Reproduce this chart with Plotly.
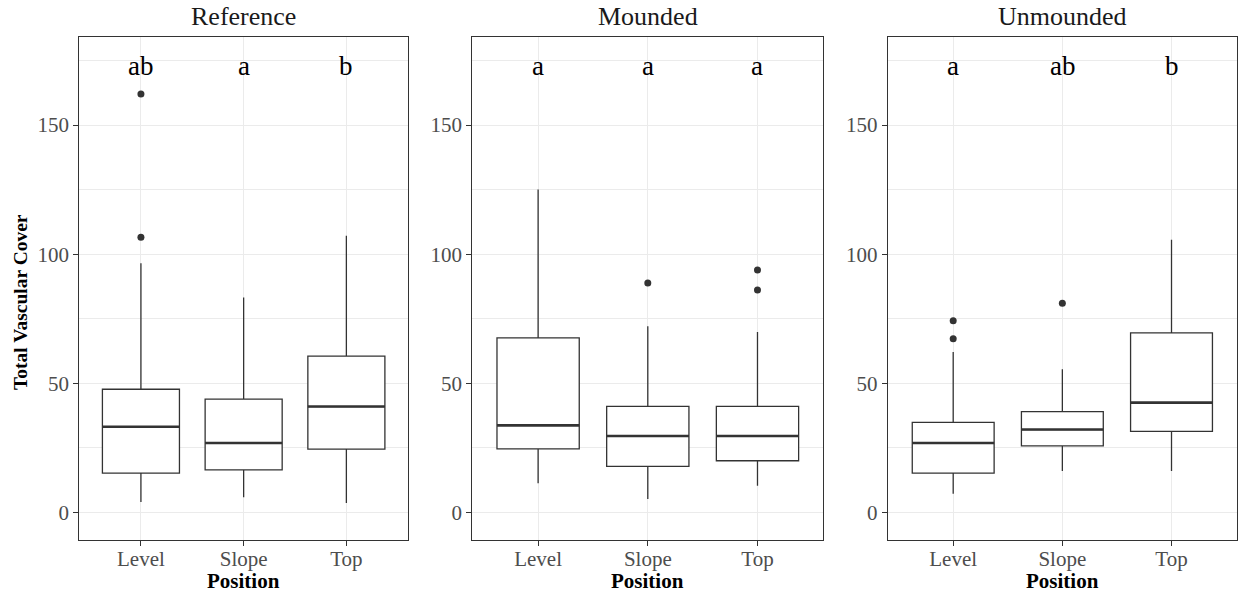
import plotly.graph_objects as go

# ---------------- data ----------------
categories = ["Level", "Slope", "Top"]
panels = ["Reference", "Mounded", "Unmounded"]

ref_q1 = [15.2, 16.5, 24.5]
ref_med = [33.2, 26.9, 41.0]
ref_q3 = [47.7, 43.9, 60.5]
ref_lo = [4.0, 5.9, 3.6]
ref_hi = [96.5, 83.2, 107.1]
ref_out_x = ["Level", "Level"]
ref_out_y = [162.0, 106.6]
ref_letters = ["ab", "a", "b"]

mou_q1 = [24.6, 17.8, 20.0]
mou_med = [33.7, 29.6, 29.6]
mou_q3 = [67.6, 41.1, 41.1]
mou_lo = [11.3, 5.2, 10.3]
mou_hi = [125.1, 72.1, 69.9]
mou_out_x = ["Slope", "Top", "Top"]
mou_out_y = [88.8, 93.9, 86.1]
mou_letters = ["a", "a", "a"]

unm_q1 = [15.2, 25.8, 31.4]
unm_med = [26.9, 32.1, 42.5]
unm_q3 = [34.9, 39.0, 69.5]
unm_lo = [7.2, 16.0, 16.0]
unm_hi = [62.1, 55.4, 105.6]
unm_out_x = ["Level", "Level", "Slope"]
unm_out_y = [74.2, 67.3, 81.0]
unm_letters = ["a", "ab", "b"]

y_ticks = [0, 50, 100, 150]
y_minor = [25, 75, 125, 175]
letter_y = 173

# ---------------- styling ----------------
W, H = 1238, 596
FONT = "Liberation Serif"
DARK = "#333333"
TICKC = "#4D4D4D"
GRID = "#EBEBEB"
BOX_W = 0.75

panel_px = [(79.3, 408.0), (472.3, 823.3), (887.7, 1237.0)]
top_px, bot_px = 37.3, 540.3
ydom = [1 - bot_px / H, 1 - top_px / H]

datasets = [
    (ref_q1, ref_med, ref_q3, ref_lo, ref_hi, ref_out_x, ref_out_y, ref_letters),
    (mou_q1, mou_med, mou_q3, mou_lo, mou_hi, mou_out_x, mou_out_y, mou_letters),
    (unm_q1, unm_med, unm_q3, unm_lo, unm_hi, unm_out_x, unm_out_y, unm_letters),
]

fig = go.Figure()
annotations = []
pos = list(range(len(categories)))
cat_index = {c: i for i, c in enumerate(categories)}

for k, (q1, med, q3, lo, hi, ox, oy, letters) in enumerate(datasets):
    sfx = "" if k == 0 else str(k + 1)
    xa, ya = "x" + sfx, "y" + sfx
    fig.add_trace(go.Box(
        x=pos, q1=q1, median=med, q3=q3, lowerfence=lo, upperfence=hi,
        width=BOX_W, whiskerwidth=0, fillcolor="white",
        line=dict(color=DARK, width=1.3), boxpoints=False,
        xaxis=xa, yaxis=ya, hoverinfo="skip",
    ))
    # thicker median lines (ggplot style)
    mx, my = [], []
    for i, m in zip(pos, med):
        mx += [i - BOX_W / 2, i + BOX_W / 2, None]
        my += [m, m, None]
    fig.add_trace(go.Scatter(x=mx, y=my, mode="lines",
                             line=dict(color=DARK, width=2.6),
                             xaxis=xa, yaxis=ya, hoverinfo="skip"))
    # outliers
    fig.add_trace(go.Scatter(x=[cat_index[c] for c in ox], y=oy, mode="markers",
                             marker=dict(color=DARK, size=7),
                             xaxis=xa, yaxis=ya, hoverinfo="skip"))
    # letters
    for i, t in zip(pos, letters):
        annotations.append(dict(x=i, y=letter_y, xref=xa, yref=ya, text=t,
                                showarrow=False, xanchor="center", yanchor="middle",
                                font=dict(family=FONT, size=27, color="black")))
    x0, x1 = panel_px[k]
    xdom = [x0 / W, x1 / W]
    axis_common = dict(showline=True, mirror=True, linecolor=DARK, linewidth=1.2,
                       ticks="outside", ticklen=5, tickcolor=DARK, tickwidth=1,
                       showgrid=True, gridcolor=GRID, gridwidth=1, zeroline=False,
                       tickfont=dict(family=FONT, size=21, color=TICKC))
    fig.layout["xaxis" + sfx] = dict(domain=xdom, range=[-0.6, 2.6], tickvals=pos,
                                     ticktext=categories, anchor=ya,
                                     ticklabelstandoff=-6, **axis_common)
    fig.layout["yaxis" + sfx] = dict(domain=ydom, range=[-10.8, 184.0], tickvals=y_ticks,
                                     anchor=xa,
                                     minor=dict(tickvals=y_minor, showgrid=True,
                                                gridcolor=GRID, gridwidth=0.6, ticks=""),
                                     **axis_common)
    # panel title
    annotations.append(dict(x=(x0 + x1) / 2 / W, y=1 - 17 / H, xref="paper", yref="paper",
                            text=panels[k], showarrow=False, xanchor="center", yanchor="middle",
                            font=dict(family=FONT, size=26, color="#1A1A1A")))
    # x axis title
    annotations.append(dict(x=(x0 + x1) / 2 / W, y=1 - 581 / H, xref="paper", yref="paper",
                            text="Position", showarrow=False, xanchor="center", yanchor="middle",
                            font=dict(family=FONT, size=21, color="black", weight="bold")))

annotations.append(dict(x=20 / W, y=1 - 302 / H, xref="paper", yref="paper",
                        text="Total Vascular Cover", textangle=-90, showarrow=False,
                        xanchor="center", yanchor="middle",
                        font=dict(family=FONT, size=19.5, color="black", weight="bold")))

fig.update_layout(width=W, height=H, margin=dict(l=0, r=0, t=0, b=0),
                  paper_bgcolor="white", plot_bgcolor="white", showlegend=False,
                  annotations=annotations)

fig.write_html("out.html")
